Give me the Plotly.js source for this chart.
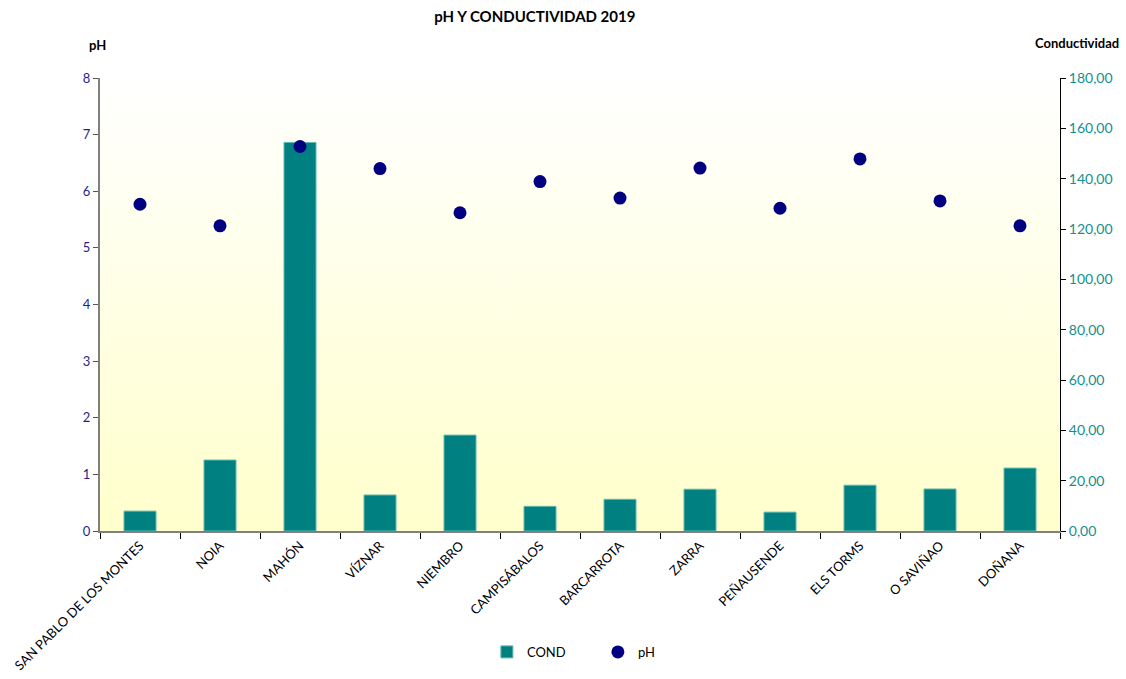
<!DOCTYPE html>
<html>
<head>
<meta charset="utf-8">
<script src="https://cdn.plot.ly/plotly-3.0.1.min.js"></script>
<style>html,body{margin:0;padding:0;background:#fff;}#chart{width:1126px;height:679px;}</style>
</head>
<body>
<div id="chart"></div>
<script>
const estaciones = ["SAN PABLO DE LOS MONTES","NOIA","MAHÓN","VÍZNAR","NIEMBRO","CAMPISÁBALOS","BARCARROTA","ZARRA","PEÑAUSENDE","ELS TORMS","O SAVIÑAO","DOÑANA"];
const cond = [7.9, 28.2, 154.4, 14.3, 38.1, 9.8, 12.6, 16.6, 7.5, 18.2, 16.7, 25.0];
const ph = [5.77, 5.39, 6.79, 6.40, 5.62, 6.17, 5.88, 6.41, 5.70, 6.57, 5.83, 5.39];
const phTicks = [0,1,2,3,4,5,6,7,8];
const condTicks = [0,20,40,60,80,100,120,140,160,180];

const FONT = "Lato, 'Open Sans', sans-serif";
const grad = 'data:image/svg+xml;utf8,' + encodeURIComponent(
  '<svg xmlns="http://www.w3.org/2000/svg" width="100" height="100" preserveAspectRatio="none">' +
  '<defs><linearGradient id="g" x1="0" y1="0" x2="0" y2="1">' +
  '<stop offset="0" stop-color="#ffffff"/><stop offset="1" stop-color="#ffffcc"/></linearGradient></defs>' +
  '<rect width="100" height="100" fill="url(#g)"/></svg>');

const traces = [
  {
    type: 'bar', name: 'COND', x: estaciones, y: cond, yaxis: 'y',
    width: 0.4,
    marker: {color: '#008080', line: {color: '#5fb8b0', width: 1}}
  },
  {
    type: 'scatter', mode: 'markers', name: 'pH', x: estaciones, y: ph, yaxis: 'y2',
    marker: {color: '#000080', size: 13, symbol: 'circle'}
  }
];

const layout = {
  width: 1126, height: 679,
  margin: {l: 100, r: 66, t: 78, b: 148},
  paper_bgcolor: '#ffffff',
  plot_bgcolor: 'rgba(0,0,0,0)',
  separators: ',.',
  font: {family: FONT, size: 13, color: '#000'},
  title: {text: '<b>pH Y CONDUCTIVIDAD 2019</b>', font: {family: FONT, size: 15, color: '#000'},
          x: 0.475, xref: 'container', xanchor: 'center', y: 0.975, yanchor: 'middle'},
  showlegend: true,
  legend: {orientation: 'h', x: 0.403, xanchor: 'left', y: -0.267, yanchor: 'middle',
           font: {family: FONT, size: 13, color: '#000'}, entrywidth: 66, entrywidthmode: 'pixels',
           itemwidth: 30, bgcolor: 'rgba(0,0,0,0)'},
  images: [{source: grad, xref: 'paper', yref: 'paper', x: 0, y: 1, sizex: 1, sizey: 1,
            sizing: 'stretch', xanchor: 'left', yanchor: 'top', layer: 'below'}],
  xaxis: {
    type: 'category', tickangle: -45, tickson: 'boundaries', ticks: 'outside', ticklen: 6,
    tickcolor: '#000', showline: true, linecolor: '#808080', linewidth: 2, showgrid: false,
    tickfont: {family: FONT, size: 13, color: '#000'}, range: [-0.5, 11.5], zeroline: false
  },
  yaxis: {
    range: [0, 180], tickvals: condTicks, tickformat: '.2f', side: 'right',
    ticks: 'outside', ticklen: 5, tickcolor: '#000', showline: true, linecolor: '#000', linewidth: 1,
    showgrid: false, zeroline: false, tickfont: {family: FONT, size: 14, color: '#148f8f'}
  },
  yaxis2: {
    range: [0, 8], tickvals: phTicks, ticktext: phTicks.map(String), overlaying: 'y', side: 'left',
    ticks: 'outside', ticklen: 5, tickcolor: '#555', showline: true, linecolor: '#808080', linewidth: 2,
    showgrid: false, zeroline: false, tickfont: {family: FONT, size: 13, color: '#1f1f8f'}
  },
  annotations: [
    {text: '<b>pH</b>', xref: 'paper', yref: 'paper', x: -0.003, y: 1.073, xanchor: 'center', yanchor: 'middle',
     showarrow: false, font: {family: FONT, size: 13, color: '#000'}},
    {text: '<b>Conductividad</b>', xref: 'paper', yref: 'paper', x: 1.0635, y: 1.078, xanchor: 'right', yanchor: 'middle',
     showarrow: false, font: {family: FONT, size: 13, color: '#000'}}
  ]
};

Plotly.newPlot('chart', traces, layout, {displayModeBar: false, staticPlot: true});
</script>
</body>
</html>
